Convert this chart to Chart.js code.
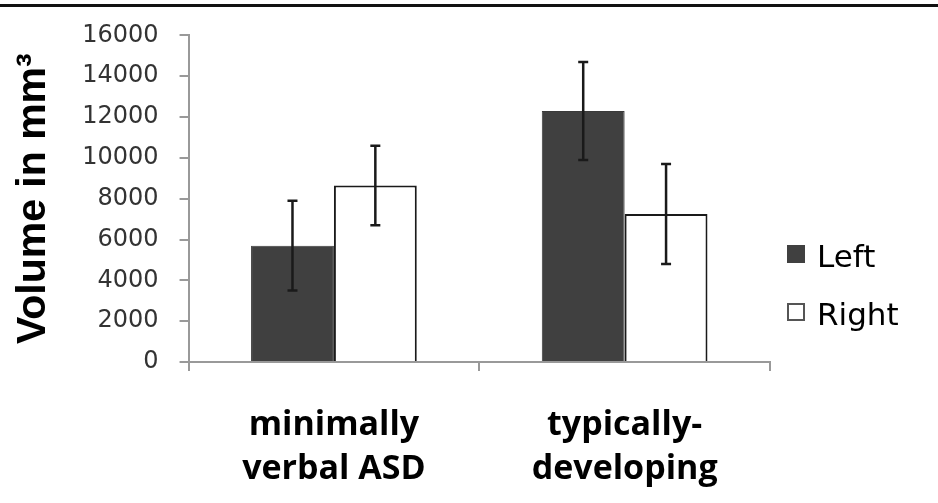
<!DOCTYPE html>
<html>
<head>
<meta charset="utf-8">
<script src="https://cdn.jsdelivr.net/npm/chart.js@4/dist/chart.umd.min.js"></script>
<style>
  html, body { margin: 0; padding: 0; background: #fff; }
  #wrap { position: relative; width: 938px; height: 503px; overflow: hidden; }
  #topline { position: absolute; left: 0; top: 4px; width: 938px; height: 3px; background: #111; }
  canvas { position: absolute; left: 0; top: 0; }
</style>
</head>
<body>
<div id="wrap">
  <canvas id="c" width="938" height="503"></canvas>
  <div id="topline"></div>
</div>
<script>
// ---- data ----
const categories = [['minimally', 'verbal ASD'], ['typically-', 'developing']];
const seriesNames = ['Left', 'Right'];
const leftValues = [5700, 12300];
const leftErrors = [2200, 2400];
const rightValues = [8650, 7250];
const rightErrors = [1950, 2450];
const yTicks = [0, 2000, 4000, 6000, 8000, 10000, 12000, 14000, 16000];
const yTitle = 'Volume in mm\u00B3';

const errorsByDataset = [leftErrors, rightErrors];

const errorBarPlugin = {
  id: 'errorBars',
  afterDatasetsDraw(chart) {
    const ctx = chart.ctx;
    const yScale = chart.scales.y;
    ctx.save();
    ctx.strokeStyle = '#1a1a1a';
    ctx.lineWidth = 2.5;
    chart.data.datasets.forEach((ds, i) => {
      const meta = chart.getDatasetMeta(i);
      meta.data.forEach((bar, j) => {
        const v = ds.data[j];
        const e = errorsByDataset[i][j];
        const x = bar.x;
        const yT = yScale.getPixelForValue(v + e);
        const yB = yScale.getPixelForValue(v - e);
        ctx.beginPath();
        ctx.moveTo(x, yT); ctx.lineTo(x, yB);
        ctx.moveTo(x - 5, yT); ctx.lineTo(x + 5, yT);
        ctx.moveTo(x - 5, yB); ctx.lineTo(x + 5, yB);
        ctx.stroke();
      });
    });
    ctx.restore();
  }
};

const legendPlugin = {
  id: 'customLegend',
  afterDraw(chart) {
    const ctx = chart.ctx;
    const area = chart.chartArea;
    ctx.save();
    ctx.font = '31px "DejaVu Sans"';
    ctx.textBaseline = 'alphabetic';
    ctx.textAlign = 'left';
    const boxX = area.right + 18;
    const rows = [267, 325];
    chart.data.datasets.forEach((ds, i) => {
      const base = rows[i];
      const bx = boxX, by = base - 21, s = 16;
      ctx.fillStyle = ds.backgroundColor;
      ctx.fillRect(bx, by, s, s);
      ctx.lineWidth = 2;
      ctx.strokeStyle = i === 0 ? '#404040' : '#555';
      ctx.strokeRect(bx, by, s, s);
      ctx.fillStyle = '#000';
      ctx.fillText(ds.label, bx + 29, base);
    });
    ctx.restore();
  }
};

new Chart(document.getElementById('c'), {
  type: 'bar',
  data: {
    labels: categories,
    datasets: [
      { label: seriesNames[0], data: leftValues, backgroundColor: '#404040', borderColor: '#3a3a3a', borderWidth: 1 },
      { label: seriesNames[1], data: rightValues, backgroundColor: '#ffffff', borderColor: '#1a1a1a', borderWidth: 2 }
    ]
  },
  options: {
    responsive: false,
    devicePixelRatio: 1,
    animation: false,
    layout: { padding: { top: 35, right: 168, bottom: 15, left: 4 } },
    datasets: { bar: { categoryPercentage: 0.57, barPercentage: 1.0 } },
    plugins: { legend: { display: false }, tooltip: { enabled: false } },
    scales: {
      x: {
        afterFit(scale) { scale.height = 126; },
        grid: { display: true, drawOnChartArea: false, drawTicks: true, tickLength: 9, color: '#999', lineWidth: 2, offset: true },
        border: { display: true, color: '#999', width: 2 },
        ticks: { color: '#000', padding: 32, font: { family: '"Open Sans"', size: 34, weight: 'bold', lineHeight: 1.3 } }
      },
      y: {
        min: 0, max: 16000,
        afterBuildTicks(axis) { axis.ticks = yTicks.map(v => ({ value: v })); },
        grid: { display: true, drawOnChartArea: false, drawTicks: true, tickLength: 9, color: '#999', lineWidth: 2 },
        border: { display: true, color: '#999', width: 2 },
        ticks: { color: '#333', padding: 21, font: { family: '"DejaVu Sans"', size: 24 }, callback: (v) => String(v) },
        title: { display: true, text: yTitle, color: '#000', padding: { top: 5, bottom: 3 }, font: { family: '"Liberation Sans"', size: 41, weight: 'bold', lineHeight: 1.2 } }
      }
    }
  },
  plugins: [errorBarPlugin, legendPlugin]
});
</script>
</body>
</html>
